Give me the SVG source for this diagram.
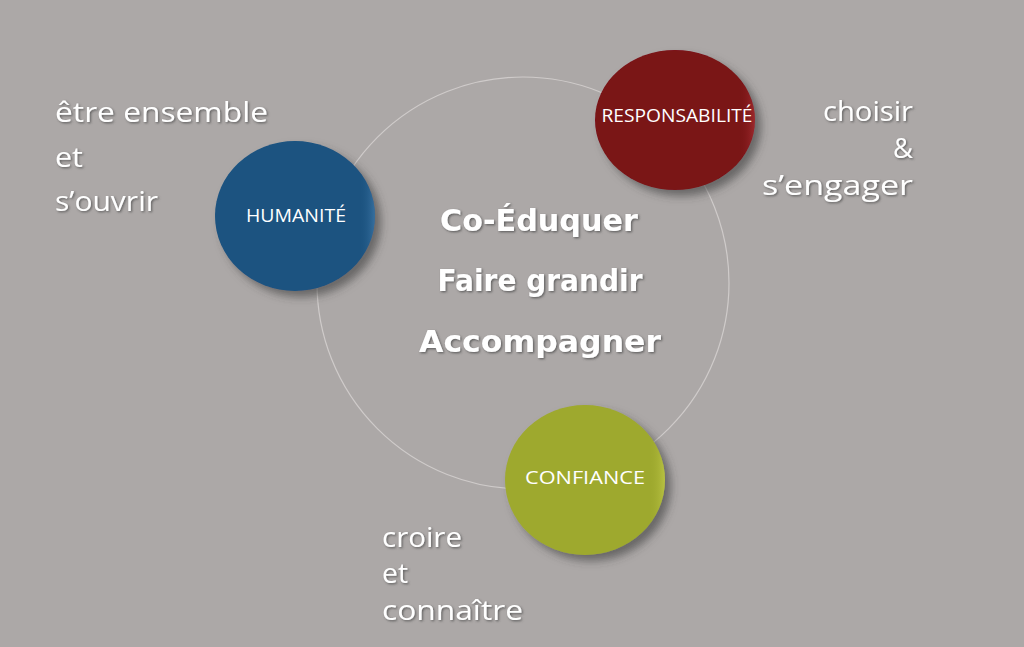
<svg xmlns="http://www.w3.org/2000/svg" width="1024" height="647" viewBox="0 0 1024 647">
<defs>
<filter id="nodeShadow" x="-30%" y="-30%" width="170%" height="170%">
<feDropShadow dx="6" dy="6" stdDeviation="4" flood-color="#3a3a3a" flood-opacity="0.6"/>
</filter>
<filter id="txtShadow" x="-10%" y="-30%" width="120%" height="160%">
<feDropShadow dx="1.2" dy="1.2" stdDeviation="0.8" flood-color="#4a4a4a" flood-opacity="0.8"/>
</filter>
<linearGradient id="rimBlue" x1="0" y1="0" x2="1" y2="0">
<stop offset="0.9" stop-color="#1a5280" stop-opacity="0"/>
<stop offset="1" stop-color="#6aa6d8"/>
</linearGradient>
<linearGradient id="rimRed" x1="0" y1="0" x2="1" y2="0">
<stop offset="0.9" stop-color="#7a1218" stop-opacity="0"/>
<stop offset="1" stop-color="#e0505a"/>
</linearGradient>
<linearGradient id="rimGreen" x1="0" y1="0" x2="1" y2="0">
<stop offset="0.9" stop-color="#9ea92e" stop-opacity="0"/>
<stop offset="1" stop-color="#e8ef6a"/>
</linearGradient>
</defs>
<style>
.bg{fill:#aca8a7}
.ring{fill:none;stroke:#cfcbca;stroke-width:1.2}
.node{filter:url(#nodeShadow)}
.rim{opacity:0.35}
.lbl{font-family:"Open Sans","DejaVu Sans",sans-serif;font-size:18px;fill:#ffffff;text-anchor:middle}
.main{font-family:"DejaVu Sans","Liberation Sans",sans-serif;font-weight:bold;font-size:30px;fill:#ffffff;text-anchor:middle;filter:url(#txtShadow)}
.side{font-family:"Open Sans","DejaVu Sans",sans-serif;font-size:27px;fill:#ffffff;filter:url(#txtShadow)}
.end{text-anchor:end}
</style>
<rect class="bg" x="0" y="0" width="1024" height="647"/>
<g id="connectors">
<circle class="ring" cx="523" cy="283" r="206"/>
</g>
<g id="humanite">
<ellipse class="node" cx="295" cy="216" rx="80" ry="75" fill="#1a5280"/>
<ellipse class="rim" cx="295" cy="216" rx="80" ry="75" fill="url(#rimBlue)"/>
<text class="lbl" x="296" y="222" textLength="100" lengthAdjust="spacingAndGlyphs">HUMANITÉ</text>
</g>
<g id="responsabilite">
<ellipse class="node" cx="675" cy="120" rx="80" ry="70" fill="#7a1218"/>
<ellipse class="rim" cx="675" cy="120" rx="80" ry="70" fill="url(#rimRed)"/>
<text class="lbl" x="677" y="122" textLength="151" lengthAdjust="spacingAndGlyphs">RESPONSABILITÉ</text>
</g>
<g id="confiance">
<ellipse class="node" cx="585" cy="480" rx="80" ry="75" fill="#9ea92e"/>
<ellipse class="rim" cx="585" cy="480" rx="80" ry="75" fill="url(#rimGreen)"/>
<text class="lbl" x="585" y="484" textLength="120" lengthAdjust="spacingAndGlyphs">CONFIANCE</text>
</g>
<g id="centre">
<text class="main" x="539" y="231" textLength="198" lengthAdjust="spacingAndGlyphs">Co-Éduquer</text>
<text class="main" x="540" y="291" textLength="205" lengthAdjust="spacingAndGlyphs">Faire grandir</text>
<text class="main" x="540" y="352" textLength="242" lengthAdjust="spacingAndGlyphs">Accompagner</text>
</g>
<g id="texte-humanite">
<text class="side" x="55" y="122" textLength="213" lengthAdjust="spacingAndGlyphs">être ensemble</text>
<text class="side" x="55" y="167" textLength="28" lengthAdjust="spacingAndGlyphs">et</text>
<text class="side" x="55" y="211" textLength="103" lengthAdjust="spacingAndGlyphs">s’ouvrir</text>
</g>
<g id="texte-responsabilite">
<text class="side end" x="913" y="121" textLength="90" lengthAdjust="spacingAndGlyphs">choisir</text>
<text class="side end" x="913" y="158" textLength="20" lengthAdjust="spacingAndGlyphs">&amp;</text>
<text class="side end" x="913" y="195" textLength="151" lengthAdjust="spacingAndGlyphs">s’engager</text>
</g>
<g id="texte-confiance">
<text class="side" x="382" y="547" textLength="80" lengthAdjust="spacingAndGlyphs">croire</text>
<text class="side" x="382" y="583" textLength="26" lengthAdjust="spacingAndGlyphs">et</text>
<text class="side" x="382" y="620" textLength="141" lengthAdjust="spacingAndGlyphs">connaître</text>
</g>
</svg>
